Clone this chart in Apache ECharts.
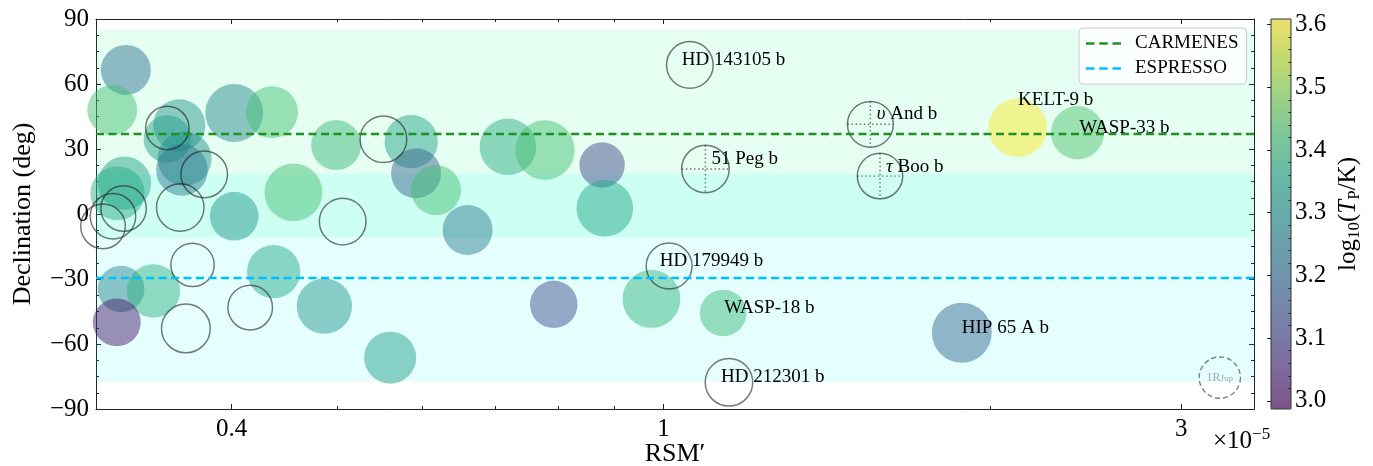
<!DOCTYPE html>
<html><head><meta charset="utf-8">
<script src="https://cdn.jsdelivr.net/npm/echarts@6/dist/echarts.min.js"></script>
<style>html,body{margin:0;padding:0;background:#fff}#c{width:1373px;height:466px}</style>
</head><body><div id="c"></div>
<script>
// ---------------- data ----------------
// planets with a measured temperature (filled circles)
const filledRSM   = [0.3196,0.3105,0.358,0.349,0.362,0.360,0.4022,0.4358,0.4993,0.5855,0.5916,0.6172,0.4561,0.4022,0.3187,0.3140,0.3164,0.3389,0.3135,0.4373,0.4870,0.5600,0.6600,0.7188,0.7776,0.8778,0.8829,0.7923,0.9748,1.135,2.12,2.407,1.883];
const filledDec   = [66.5,48.0,41.0,34.6,25.5,20.3,46.6,47.0,31.8,33.4,18.8,11.0,10.0,-1.0,14.2,9.6,-34.6,-35.5,-50.0,-26.6,-42.5,-66.3,-7.4,31.0,29.5,22.6,2.6,-41.7,-39.2,-45.7,39.8,37.5,-54.8];
const filledLogT  = [3.21,3.42,3.30,3.33,3.29,3.24,3.27,3.42,3.40,3.34,3.18,3.42,3.42,3.31,3.34,3.37,3.27,3.38,3.02,3.36,3.31,3.33,3.24,3.37,3.42,3.12,3.36,3.13,3.39,3.40,3.607,3.43,3.19];
const filledRad   = [1.21,1.21,1.26,1.15,1.31,1.25,1.40,1.26,1.21,1.29,1.21,1.21,1.40,1.18,1.29,1.31,1.13,1.29,1.16,1.29,1.34,1.26,1.21,1.37,1.44,1.10,1.37,1.15,1.40,1.13,1.42,1.29,1.45];
const filledNames = ['','','','','','','','','','','','','','','','','','','','','','','','','','','','','','WASP-18 b','KELT-9 b','WASP-33 b','HIP 65 A b'];
// planets without temperature (open circles)
const openRSM   = [0.349,0.552,0.3774,0.3587,0.5063,0.3181,0.3110,0.3045,0.3682,0.363,0.4161,1.0575,1.012,1.149,1.093,1.551,1.583];
const openDec   = [39.7,34.5,18.3,3.0,-3.5,2.5,-1.0,-5.7,-23.5,-52.8,-43.2,68.8,-24.0,-77.7,20.8,41.4,17.5];
const openRad   = [1.05,1.13,1.13,1.15,1.13,1.10,1.10,1.08,1.05,1.18,1.08,1.13,1.11,1.15,1.15,1.11,1.10];
const openNames = ['','','','','','','','','','','','HD 143105 b','HD 179949 b','HD 212301 b','51 Peg b','\u03c5 And b','\u03c4 Boo b'];
const crossedNames = ['51 Peg b','\u03c5 And b','\u03c4 Boo b'];
// 1 R_Jup reference marker
const refRSM = [3.255], refDec = [-75.5], refRad = [1.0];
// observatory latitudes and visibility half-width
const siteNames = ['CARMENES','ESPRESSO'];
const siteLat   = [37.2, -29.4];
const visHalf   = 48;
// axes
const xMin = 0.3, xMax = 3.5;
const xMajorTicks = [0.4, 1, 3];
const xMinorTicks = [0.5, 0.6, 0.7, 0.8, 0.9, 2];
const yMin = -90, yMax = 90, yStep = 30;
const cbMin = 2.987, cbMax = 3.609;
const cbMajorTicks = [3.0, 3.1, 3.2, 3.3, 3.4, 3.5, 3.6];
const cbMinorTicks = [3.02,3.04,3.06,3.08,3.12,3.14,3.16,3.18,3.22,3.24,3.26,3.28,3.32,3.34,3.36,3.38,3.42,3.44,3.46,3.48,3.52,3.54,3.56,3.58];

// ---------------- styling ----------------
const FONT = '"Liberation Serif", "DejaVu Serif", serif';
const RJUP_PX = 41.3;
const LABEL_OFFSETS = {
  'HD 143105 b': [-8, -5], '51 Peg b': [6, -9.5], '\u03c5 And b': [6.4, -10], '\u03c4 Boo b': [6, -9.5],
  'KELT-9 b': [0.4, -27.5], 'WASP-33 b': [1.7, -5], 'HD 179949 b': [-9.3, -4.5], 'WASP-18 b': [1, -5],
  'HD 212301 b': [-8, -5], 'HIP 65 A b': [0, -5]
};
const viridis = ['#440154','#482475','#414487','#355f8d','#2a788e','#21918c','#22a884','#44bf70','#7ad151','#bddf26','#fde725'];
function rgba(hex, a){const n=parseInt(hex.slice(1),16);return 'rgba('+(n>>16)+','+((n>>8)&255)+','+(n&255)+','+a+')';}
const viridisA = viridis.map(c => rgba(c, 0.6));
const lg = Math.log10;
const fmtName = n => n.replace(/^([\u03c5\u03c4])/, '{it|$1}');
const AX = '#222';
const TXT = '#000';

function item(x, y, extra, name) {
  const it = {value: [lg(x), y].concat(extra), name: name};
  if (name && LABEL_OFFSETS[name]) it.label = {show: true, offset: LABEL_OFFSETS[name]};
  return it;
}
const filledData = filledRSM.map((r,i) => item(r, filledDec[i], [filledLogT[i], filledRad[i]], filledNames[i]));
const openData = openRSM.map((r,i) => item(r, openDec[i], [0, openRad[i]], openNames[i]));
const crossData = openRSM.map((r,i) => ({value:[lg(r), openDec[i], 0, openRad[i]], name: openNames[i]}))
  .filter(d => crossedNames.indexOf(d.name) >= 0);
const refData = refRSM.map((r,i) => ({value:[lg(r), refDec[i], 0, refRad[i]]}));

const labelBase = {
  show: false, position: 'inside', align: 'left', verticalAlign: 'middle',
  fontFamily: FONT, fontSize: 19, color: TXT, textBorderWidth: 0, opacity: 1,
  formatter: p => fmtName(p.name),
  rich: {it: {fontFamily: FONT, fontSize: 19, fontStyle: 'italic', color: TXT, textBorderWidth: 0}}
};
const sizeFn = v => v[3] * RJUP_PX;

const siteColors = ['#229122', '#00bfff'];
const bandColors = ['rgba(0,255,127,0.1)', 'rgba(0,255,255,0.1)'];
const DASH_ICON = 'path://M0 0H8.5V2.5H0Z M13.25 0H21.75V2.5H13.25Z M26.5 0H35V2.5H26.5Z';
const siteSeries = siteNames.map((n,i) => ({
  name: n, type: 'line', data: [], symbol: 'none', z: 1, silent: true,
  lineStyle: {color: siteColors[i], width: 2.3, type: [8, 4.5]},
  itemStyle: {color: siteColors[i]},
  markLine: {silent: true, symbol: ['none','none'], label: {show: false},
    lineStyle: {color: siteColors[i], width: 2.3, type: [8, 4.5]}, data: [{yAxis: siteLat[i]}]},
  markArea: {silent: true, itemStyle: {color: bandColors[i]},
    data: [[{yAxis: siteLat[i] - visHalf}, {yAxis: Math.min(siteLat[i] + visHalf, yMax)}]]}
}));

function xAx(pos, major) {
  const vals = (major ? xMajorTicks : xMinorTicks).map(lg);
  return {
    type: 'value', gridIndex: 0, position: pos, min: lg(xMin), max: lg(xMax),
    axisLine: {show: major, onZero: false, lineStyle: {color: AX, width: 1}},
    axisTick: {show: true, inside: true, length: major ? 5 : 3, customValues: vals, lineStyle: {color: AX}},
    axisLabel: (pos === 'bottom' && major) ? {show: true, customValues: vals, margin: 8,
      fontFamily: FONT, fontSize: 25, color: TXT,
      formatter: v => String(+Math.pow(10, v).toPrecision(3))} : {show: false},
    splitLine: {show: false},
    name: (pos === 'bottom' && major) ? 'RSM\u2032' : '',
    nameLocation: 'middle', nameGap: 32, nameMoveOverlap: false,
    nameTextStyle: {fontFamily: FONT, fontSize: 26, color: TXT}
  };
}
function yAx(pos) {
  return {
    type: 'value', gridIndex: 0, position: pos, min: yMin, max: yMax, interval: yStep,
    axisLine: {show: true, onZero: false, lineStyle: {color: AX, width: 1}},
    axisTick: {show: true, inside: true, length: 5, lineStyle: {color: AX}},
    minorTick: {show: true, splitNumber: 4, length: 3, lineStyle: {color: AX}},
    axisLabel: pos === 'left' ? {show: true, margin: 7, fontFamily: FONT, fontSize: 25, color: TXT,
      formatter: v => v < 0 ? '\u2212' + (-v) : String(v)} : {show: false},
    splitLine: {show: false},
    name: pos === 'left' ? 'Declination (deg)' : '',
    nameLocation: 'middle', nameGap: 60, nameMoveOverlap: false,
    nameTextStyle: {fontFamily: FONT, fontSize: 26, color: TXT}
  };
}

const option = {
  animation: false,
  backgroundColor: '#fff',
  title: {text: '\u00d710{sup|\u22125}', left: 1208, top: 421,
    textStyle: {fontFamily: FONT, fontSize: 25, fontWeight: 'normal', color: TXT, lineHeight: 30,
      rich: {sup: {fontFamily: FONT, fontSize: 17, color: TXT, lineHeight: 16, verticalAlign: 'top'}}}},
  grid: [
    {left: 96, right: 119, top: 19, bottom: 57, outerBoundsMode: 'none', containLabel: false},
    {left: 1271, top: 19, width: 20, height: 390, show: true, z: 10, outerBoundsMode: 'none', containLabel: false,
      backgroundColor: 'rgba(0,0,0,0)', borderColor: '#333', borderWidth: 1}
  ],
  legend: {
    data: siteNames.map(n => ({name: n, icon: DASH_ICON})),
    orient: 'vertical', left: 1079, top: 28,
    padding: [6, 8, 6, 7], itemGap: 6, itemWidth: 35, itemHeight: 2.5,
    backgroundColor: 'rgba(255,255,255,0.85)', borderColor: '#ccc', borderWidth: 1, borderRadius: 4,
    textStyle: {fontFamily: FONT, fontSize: 19, color: TXT, padding: [0, 0, 0, 9], lineHeight: 18},
    selectedMode: false
  },
  visualMap: {
    type: 'continuous', min: cbMin, max: cbMax, dimension: 2, seriesIndex: 2,
    orient: 'vertical', left: 1271, top: 19, itemWidth: 20, itemHeight: 390, padding: 0,
    calculable: false, hoverLink: false, text: null,
    inRange: {color: viridisA}
  },
  xAxis: [
    xAx('bottom', true), xAx('bottom', false), xAx('top', true), xAx('top', false),
    {type: 'value', gridIndex: 1, min: 0, max: 1, show: false}
  ],
  yAxis: [
    yAx('left'), yAx('right'),
    {type: 'value', gridIndex: 1, position: 'right', min: cbMin, max: cbMax, z: 11,
      axisLine: {show: false}, splitLine: {show: false},
      axisTick: {show: true, inside: true, length: 4, customValues: cbMajorTicks, lineStyle: {color: '#222'}},
      axisLabel: {show: true, customValues: cbMajorTicks, margin: 4, fontFamily: FONT, fontSize: 25, color: TXT,
        formatter: v => v.toFixed(1)},
      name: 'log{sub|10}({it|T}{sub|P}/K)', nameLocation: 'middle', nameGap: 42, nameRotate: 90, nameMoveOverlap: false,
      nameTextStyle: {fontFamily: FONT, fontSize: 25, color: TXT, lineHeight: 30,
        rich: {sub: {fontFamily: FONT, fontSize: 17, color: TXT, lineHeight: 18, verticalAlign: 'bottom'},
               it: {fontFamily: FONT, fontSize: 25, fontStyle: 'italic', color: TXT}}}},
    {type: 'value', gridIndex: 1, position: 'right', min: cbMin, max: cbMax, z: 11,
      axisLine: {show: false}, splitLine: {show: false}, axisLabel: {show: false},
      axisTick: {show: true, inside: true, length: 2.5, customValues: cbMinorTicks, lineStyle: {color: '#222'}}}
  ],
  series: siteSeries.concat([
    {type: 'scatter', name: 'filled', z: 2, symbol: 'circle', symbolSize: sizeFn, data: filledData,
      itemStyle: {borderWidth: 0}, label: labelBase, emphasis: {disabled: true}},
    {type: 'scatter', name: 'open', z: 3, symbol: 'circle', symbolSize: sizeFn, data: openData,
      itemStyle: {color: 'rgba(0,0,0,0)', borderColor: 'rgba(25,25,25,0.72)', borderWidth: 1.5},
      label: labelBase, emphasis: {disabled: true}},
    {type: 'scatter', name: 'cross', z: 3, symbol: 'path://M0 -10 L0 10 M-10 0 L10 0', symbolSize: sizeFn,
      data: crossData, itemStyle: {color: 'rgba(0,0,0,0)', borderColor: 'rgba(40,40,40,0.8)', borderWidth: 1.4, borderType: [1.5, 2.6]},
      emphasis: {disabled: true}},
    {type: 'scatter', name: 'ref', z: 3, symbol: 'circle', symbolSize: sizeFn, data: refData,
      itemStyle: {color: 'rgba(0,0,0,0)', borderColor: 'rgba(60,60,60,0.8)', borderWidth: 1.4, borderType: [5, 3]},
      label: {show: true, position: 'inside', formatter: '{a|1R}{b|Jup}',
        rich: {a: {fontFamily: FONT, fontSize: 12, color: '#7f9c9c'}, b: {fontFamily: FONT, fontSize: 9, color: '#7f9c9c', verticalAlign: 'bottom', lineHeight: 12}}},
      emphasis: {disabled: true}}
  ])
};
echarts.init(document.getElementById('c')).setOption(option);
</script>
</body></html>
